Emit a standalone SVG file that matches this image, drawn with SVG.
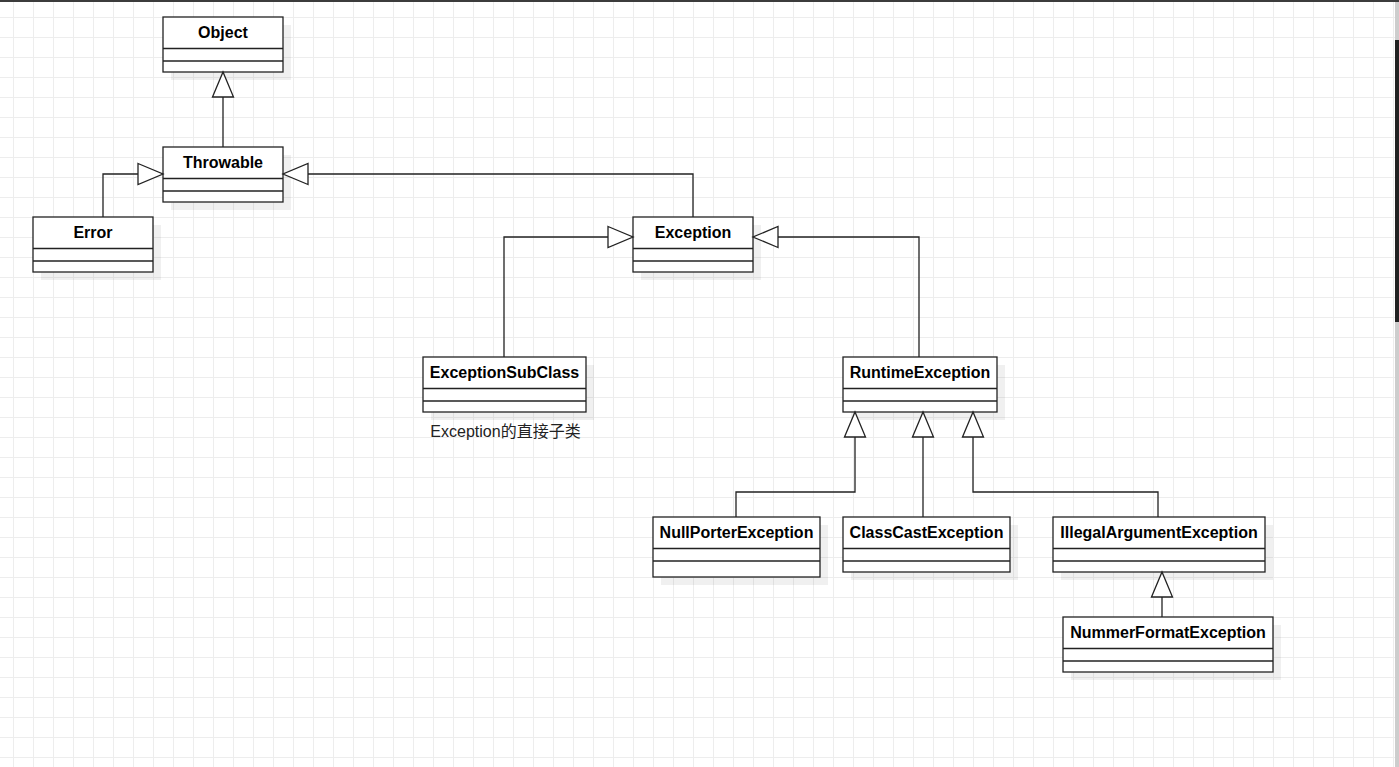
<svg xmlns="http://www.w3.org/2000/svg" width="1399" height="767" viewBox="0 0 1399 767">
  <defs>
    <pattern id="grid" x="13" y="17" width="20" height="20" patternUnits="userSpaceOnUse">
      <path d="M0.5,0 V20 M0,0.5 H20" fill="none" stroke="#ededed" stroke-width="1"/>
    </pattern>
    <marker id="inherit" markerUnits="userSpaceOnUse" markerWidth="27" markerHeight="23" refX="25" refY="10.5" orient="auto" overflow="visible">
      <path d="M0,0 L25,10.5 L0,21 Z" fill="#fff" stroke="#222" stroke-width="1.3"/>
    </marker>
  </defs>
  <style>
    .box { fill: #fff; stroke: #222; stroke-width: 1.3; }
    .shadow { fill: #000; opacity: 0.06; }
    .div { stroke: #222; stroke-width: 1.3; }
    .name { font-family: "Liberation Sans", Arial, sans-serif; font-size: 16px; font-weight: bold; fill: #000; text-anchor: middle; }
    .cap { font-family: "Liberation Sans", "Noto Sans CJK SC", sans-serif; font-size: 16px; fill: #222; text-anchor: middle; }
    .edge { fill: none; stroke: #222; stroke-width: 1.3; }
  </style>
  <rect x="0" y="0" width="1399" height="767" fill="#fff"/>
  <rect x="0" y="0" width="1399" height="767" fill="url(#grid)"/>
  <rect x="0" y="0" width="1399" height="2" fill="#3c3c3c"/>
  <rect x="1395" y="2" width="4" height="765" fill="#cdcdcd"/>
  <rect x="1395" y="40" width="4" height="282" fill="#222"/>

  <g id="node-object">
    <rect class="shadow" x="171" y="25" width="120" height="55"/>
    <rect class="box" x="163" y="17" width="120" height="55"/>
    <line class="div" x1="163" y1="48.5" x2="283" y2="48.5"/>
    <line class="div" x1="163" y1="61" x2="283" y2="61"/>
    <text class="name" x="223" y="38">Object</text>
  </g>
  <g id="node-throwable">
    <rect class="shadow" x="171" y="155" width="120" height="55"/>
    <rect class="box" x="163" y="147" width="120" height="55"/>
    <line class="div" x1="163" y1="178.5" x2="283" y2="178.5"/>
    <line class="div" x1="163" y1="191" x2="283" y2="191"/>
    <text class="name" x="223" y="168">Throwable</text>
  </g>
  <g id="node-error">
    <rect class="shadow" x="41" y="225" width="120" height="55"/>
    <rect class="box" x="33" y="217" width="120" height="55"/>
    <line class="div" x1="33" y1="248.5" x2="153" y2="248.5"/>
    <line class="div" x1="33" y1="261" x2="153" y2="261"/>
    <text class="name" x="93" y="238">Error</text>
  </g>
  <g id="node-exception">
    <rect class="shadow" x="641" y="225" width="120" height="55"/>
    <rect class="box" x="633" y="217" width="120" height="55"/>
    <line class="div" x1="633" y1="248.5" x2="753" y2="248.5"/>
    <line class="div" x1="633" y1="261" x2="753" y2="261"/>
    <text class="name" x="693" y="238">Exception</text>
  </g>
  <g id="node-exceptionsubclass">
    <rect class="shadow" x="431" y="365" width="163" height="55"/>
    <rect class="box" x="423" y="357" width="163" height="55"/>
    <line class="div" x1="423" y1="388.5" x2="586" y2="388.5"/>
    <line class="div" x1="423" y1="401" x2="586" y2="401"/>
    <text class="name" x="504.5" y="378">ExceptionSubClass</text>
    <text class="cap" x="505.5" y="437">Exception的直接子类</text>
  </g>
  <g id="node-runtimeexception">
    <rect class="shadow" x="851" y="365" width="154" height="55"/>
    <rect class="box" x="843" y="357" width="154" height="55"/>
    <line class="div" x1="843" y1="388.5" x2="997" y2="388.5"/>
    <line class="div" x1="843" y1="401" x2="997" y2="401"/>
    <text class="name" x="920" y="378">RuntimeException</text>
  </g>
  <g id="node-nullporterexception">
    <rect class="shadow" x="661" y="525" width="167" height="60"/>
    <rect class="box" x="653" y="517" width="167" height="60"/>
    <line class="div" x1="653" y1="548.5" x2="820" y2="548.5"/>
    <line class="div" x1="653" y1="561" x2="820" y2="561"/>
    <text class="name" x="736.5" y="538">NullPorterException</text>
  </g>
  <g id="node-classcastexception">
    <rect class="shadow" x="851" y="525" width="167" height="55"/>
    <rect class="box" x="843" y="517" width="167" height="55"/>
    <line class="div" x1="843" y1="548.5" x2="1010" y2="548.5"/>
    <line class="div" x1="843" y1="561" x2="1010" y2="561"/>
    <text class="name" x="926.5" y="538">ClassCastException</text>
  </g>
  <g id="node-illegalargumentexception">
    <rect class="shadow" x="1061" y="525" width="212" height="55"/>
    <rect class="box" x="1053" y="517" width="212" height="55"/>
    <line class="div" x1="1053" y1="548.5" x2="1265" y2="548.5"/>
    <line class="div" x1="1053" y1="561" x2="1265" y2="561"/>
    <text class="name" x="1159" y="538">IllegalArgumentException</text>
  </g>
  <g id="node-nummerformatexception">
    <rect class="shadow" x="1071" y="625" width="210" height="55"/>
    <rect class="box" x="1063" y="617" width="210" height="55"/>
    <line class="div" x1="1063" y1="648.5" x2="1273" y2="648.5"/>
    <line class="div" x1="1063" y1="661" x2="1273" y2="661"/>
    <text class="name" x="1168" y="638">NummerFormatException</text>
  </g>

  <g id="connectors">
    <path class="edge" d="M223,147 V72" marker-end="url(#inherit)"/>
    <path class="edge" d="M103,217 V174 H163" marker-end="url(#inherit)"/>
    <path class="edge" d="M693,217 V174 H283" marker-end="url(#inherit)"/>
    <path class="edge" d="M504,357 V237 H633" marker-end="url(#inherit)"/>
    <path class="edge" d="M919,357 V237 H753" marker-end="url(#inherit)"/>
    <path class="edge" d="M736,517 V492 H855 V412" marker-end="url(#inherit)"/>
    <path class="edge" d="M923,517 V412" marker-end="url(#inherit)"/>
    <path class="edge" d="M1158,517 V492 H973 V412" marker-end="url(#inherit)"/>
    <path class="edge" d="M1162,617 V572" marker-end="url(#inherit)"/>
  </g>
</svg>
